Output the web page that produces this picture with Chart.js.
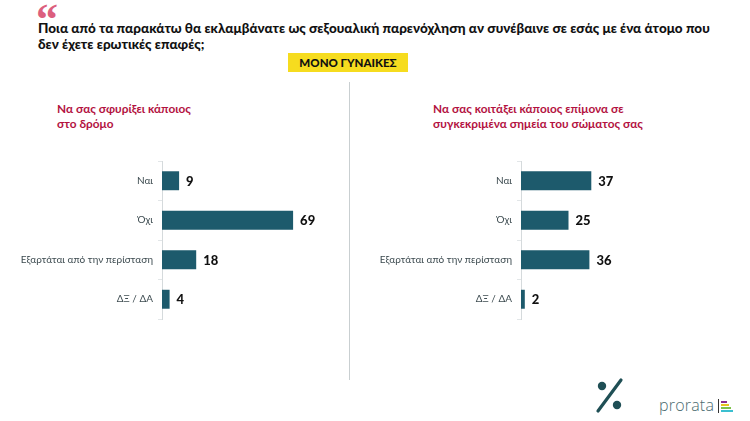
<!DOCTYPE html>
<html>
<head>
<meta charset="utf-8">
<script src="https://cdn.jsdelivr.net/npm/chart.js@4"></script>
<style>
  body { margin: 0; background: #fff; width: 750px; height: 421px; overflow: hidden; position: relative; font-family: Lato, "Noto Sans", sans-serif; }
  .abs { position: absolute; }
  #quote { left: 36px; top: -2px; font-size: 44px; line-height: 44px; font-weight: 700; color: #dc5f7e; font-family: "Liberation Serif", serif; }
  #title { left: 38px; top: 20px; width: 700px; font-size: 13.5px; line-height: 16px; font-weight: 900; color: #111; white-space: nowrap; }
  #badge { left: 288px; top: 53px; width: 120px; height: 19px; background: #f6dc1f; font-size: 11.5px; font-weight: 900; color: #111; text-align: center; line-height: 19px; }
  #divider { left: 349px; top: 82px; width: 1px; height: 298px; background: #c9cfd1; }
  .sub { font-size: 11.8px; line-height: 15px; font-weight: 700; color: #b3123f; }
  #subL { left: 57px; top: 101px; }
  #subR { left: 433px; top: 101px; }
  .chartbox { top: 150px; width: 352px; height: 180px; }
  #boxL { left: 0; }
  #boxR { left: 359px; }
  #logo { left: 659px; top: 394px; font-size: 16px; color: #4b6b70; font-family: "Open Sans", sans-serif; font-weight: 300; letter-spacing: 0.2px; }
  .lbar { height: 2px; }
</style>
</head>
<body>
<div id="quote" class="abs">&#8220;</div>
<div id="title" class="abs"></div>
<div id="badge" class="abs"></div>
<div id="divider" class="abs"></div>
<div id="subL" class="abs sub"></div>
<div id="subR" class="abs sub"></div>
<div id="boxL" class="abs chartbox"><canvas id="chartL"></canvas></div>
<div id="boxR" class="abs chartbox"><canvas id="chartR"></canvas></div>
<svg class="abs" style="left:590px;top:372px" width="40" height="45">
  <circle cx="12" cy="14" r="4.2" fill="#1f4f55"/>
  <circle cx="27" cy="33" r="4.2" fill="#1f4f55"/>
  <line x1="31" y1="8" x2="8" y2="39" stroke="#1f4f55" stroke-width="3.2" stroke-linecap="round"/>
</svg>
<div id="logo" class="abs">prorata</div>
<div class="abs" style="left:718px;top:399px;width:1px;height:14px;background:#333;"></div>
<div class="abs lbar" style="left:721px;top:401px;width:6px;background:#8a2d8f;"></div>
<div class="abs lbar" style="left:721px;top:404px;width:8px;background:#e6c21f;"></div>
<div class="abs lbar" style="left:721px;top:407px;width:10px;background:#7cc24a;"></div>
<div class="abs lbar" style="left:721px;top:410px;width:12px;background:#3bbfd0;"></div>

<script>
const titleText = 'Ποια από τα παρακάτω θα εκλαμβάνατε ως σεξουαλική παρενόχληση αν συνέβαινε σε εσάς με ένα άτομο που<br>δεν έχετε ερωτικές επαφές;';
const badgeText = 'ΜΟΝΟ ΓΥΝΑΙΚΕΣ';
const subtitleLeft = ['Να σας σφυρίξει κάποιος', 'στο δρόμο'];
const subtitleRight = ['Να σας κοιτάξει κάποιος επίμονα σε', 'συγκεκριμένα σημεία του σώματος σας'];
const categories = ['Ναι', 'Όχι', 'Εξαρτάται από την περίσταση', 'ΔΞ / ΔΑ'];
const valuesLeft = [9, 69, 18, 4];
const valuesRight = [37, 25, 36, 2];

document.getElementById('title').innerHTML = titleText;
document.getElementById('badge').textContent = badgeText;
document.getElementById('subL').innerHTML = subtitleLeft.join('<br>');
document.getElementById('subR').innerHTML = subtitleRight.join('<br>');

// value labels at the end of each bar
const valueLabels = {
  id: 'valueLabels',
  afterDatasetsDraw(chart) {
    const ctx = chart.ctx;
    const meta = chart.getDatasetMeta(0);
    ctx.save();
    ctx.font = '900 13px Lato, "Noto Sans", sans-serif';
    ctx.fillStyle = '#111';
    ctx.textAlign = 'left';
    ctx.textBaseline = 'middle';
    meta.data.forEach(function (bar, i) {
      ctx.fillText(chart.data.datasets[0].data[i], bar.x + 7, bar.y + 1);
    });
    ctx.restore();
  }
};

function makeChart(id, values) {
  return new Chart(document.getElementById(id), {
    type: 'bar',
    data: {
      labels: categories,
      datasets: [{
        data: values,
        backgroundColor: '#1d5a6c',
        barPercentage: 0.48,
        categoryPercentage: 1
      }]
    },
    options: {
      indexAxis: 'y',
      responsive: true,
      maintainAspectRatio: false,
      animation: false,
      layout: { padding: { top: 6, bottom: 7, left: 0, right: 0 } },
      plugins: { legend: { display: false }, tooltip: { enabled: false } },
      scales: {
        x: { display: false, min: 0, max: 100 },
        y: {
          afterFit: function (scale) { scale.width = 162; },
          border: { color: '#d5dadc', width: 1 },
          grid: { drawOnChartArea: false, color: '#e2e6e8', tickLength: 4 },
          ticks: { color: '#3d4b50', padding: 5, font: { size: 10, family: 'Lato, "Noto Sans", sans-serif' } }
        }
      }
    },
    plugins: [valueLabels]
  });
}

makeChart('chartL', valuesLeft);
makeChart('chartR', valuesRight);
</script>
</body>
</html>
